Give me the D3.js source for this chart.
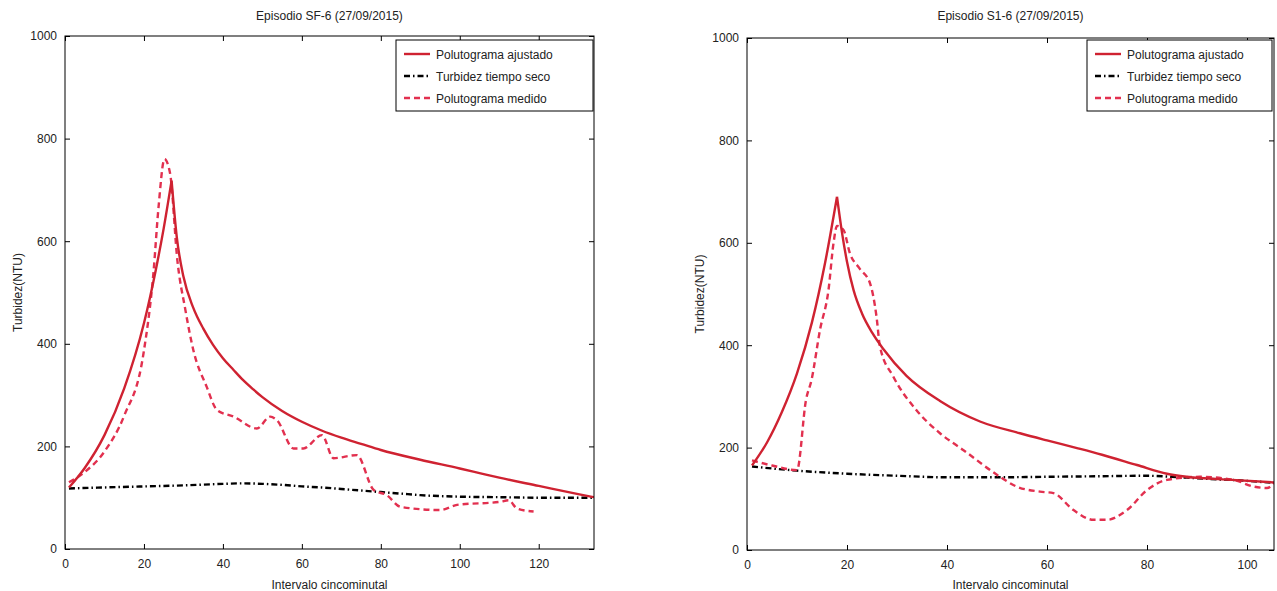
<!DOCTYPE html>
<html><head><meta charset="utf-8">
<script src="https://cdn.jsdelivr.net/npm/d3@7"></script>
<style>body{margin:0;background:#fff} svg{display:block} text{font-family:"Liberation Sans",Arial,sans-serif;fill:#222}</style>
</head><body><svg id="c" width="1277" height="591"></svg>
<script>
// ---------- data ----------
const yTicks = [0, 200, 400, 600, 800, 1000];
const leftXTicks = [0, 20, 40, 60, 80, 100, 120];
const rightXTicks = [0, 20, 40, 60, 80, 100];
const legendLabels = ["Polutograma ajustado", "Turbidez tiempo seco", "Polutograma medido"];

// Episodio SF-6
const sfAjustado = [[1,120],[5,158],[10,222],[15,313],[20,440],[23,544],[25,625],[27,718],[28.3,609],[30,531],[32.5,470],[35,430],[37.5,398],[40,372],[42.7,349],[45,330],[47.7,311],[50,296],[55,269],[60,248],[65,231],[70,217],[75,205],[80,193],[90,174],[100,157],[105,148],[110,139],[120,123],[130,107],[134,101]];
const sfSeco = [[1,118],[10,120],[20,122],[30,124],[40,127],[45,128],[50,127],[55,125],[60,122],[65,120],[70,117],[75,114],[80,111],[85,108],[90,105],[100,102],[110,101],[120,100],[134,100]];
const sfMedido = [[1,130],[5,150],[10,190],[15,260],[19.9,382],[22.4,538],[23.7,667],[25.2,760],[26.6,733],[28.5,560],[30.4,470],[32.5,388],[35.9,316],[38.5,271],[42.7,258],[48.6,235],[52,258],[53.7,251],[57.9,196],[60.4,196],[65.1,222],[68,177],[73.9,183],[78.2,115],[81.5,105],[85,82],[95,76],[99.3,86],[110.3,92],[112.4,95],[114.5,79],[118.7,73]];

// Episodio S1-6
const s1Ajustado = [[1,165],[4,210],[7,270],[10,345],[13,445],[15.6,560],[18,690],[19,620],[20,563],[21.3,508],[23,462],[25,425],[27.3,392],[31.9,340],[38.6,291],[46.6,251],[54.6,228],[60,214],[66,199],[71,186],[78,166],[84,149],[88,143],[97,137],[105.4,132]];
const s1Seco = [[1,163],[10,155],[20,149],[30,145],[40,142],[50,142],[60,143],[70,144],[80,145],[85,143],[90,140],[100,135],[105.4,131]];
const s1Medido = [[1,175],[5,165],[10,156],[11.8,293],[12.9,332],[14.6,430],[16.3,508],[17.3,599],[18,633],[19.3,625],[20.6,579],[22.5,550],[24.6,521],[25.9,456],[26.6,397],[29.3,338],[33.9,273],[38.6,228],[43.3,195],[50.6,143],[53.9,124],[58.6,114],[61.3,111],[65.3,78],[69.3,59],[72,59],[76,78],[80,117],[84,137],[90.6,143],[97.3,137],[101.3,124],[104,121],[105.4,131]];

// ---------- drawing ----------
const svg = d3.select("#c");
const colSolid = "#cf2231", colDash = "#e2304f", colBlack = "#000";

const panels = [
  {title:"Episodio SF-6 (27/09/2015)", x0:65, x1:594, y0:549, y1:36, xmax:134, xt:leftXTicks,
   ajust:sfAjustado, seco:sfSeco, med:sfMedido, leg:{x:396,y:40,w:197,h:71}},
  {title:"Episodio S1-6 (27/09/2015)", x0:747, x1:1274, y0:550, y1:38, xmax:105.4, xt:rightXTicks,
   ajust:s1Ajustado, seco:s1Seco, med:s1Medido, leg:{x:1087,y:40,w:185,h:71}}
];

panels.forEach(p => {
  const x = d3.scaleLinear().domain([0, p.xmax]).range([p.x0, p.x1]);
  const y = d3.scaleLinear().domain([0, 1000]).range([p.y0, p.y1]);
  const g = svg.append("g");
  const cx = (p.x0 + p.x1) / 2, cy = (p.y0 + p.y1) / 2;

  const clipId = "clip" + p.x0;
  svg.append("clipPath").attr("id", clipId).append("rect")
    .attr("x", p.x0).attr("y", p.y1).attr("width", p.x1 - p.x0).attr("height", p.y0 - p.y1);

  const line = d3.line().x(d => x(d[0])).y(d => y(d[1])).curve(d3.curveMonotoneX);
  const lg = g.append("g").attr("clip-path", `url(#${clipId})`);
  lg.append("path").datum(p.seco).attr("d", line).attr("fill","none")
    .attr("stroke", colBlack).attr("stroke-width", 2.4).attr("stroke-dasharray","6,3,1.5,3");
  lg.append("path").datum(p.med).attr("d", line).attr("fill","none")
    .attr("stroke", colDash).attr("stroke-width", 2.4).attr("stroke-dasharray","6,4");
  // fitted curve has a cusp at its peak: draw rising and falling limbs separately
  const pk = d3.maxIndex(p.ajust, d => d[1]);
  const limbs = [p.ajust.slice(0, pk + 1), p.ajust.slice(pk)];
  const fitD = limbs.map(l => line(l)).join("");
  lg.append("path").attr("d", fitD).attr("fill","none")
    .attr("stroke", colSolid).attr("stroke-width", 2.4).attr("stroke-linejoin","miter");

  // axes (MATLAB style: box with inward ticks)
  const fmt = d3.format("d");
  const styleAxis = a => { a.select(".domain").remove(); a.selectAll("line").attr("stroke","#000"); a.selectAll("text").attr("font-size","12px").attr("fill","#222").attr("font-family","Liberation Sans, Arial, sans-serif"); };
  g.append("g").attr("transform",`translate(0,${p.y0})`)
    .call(d3.axisBottom(x).tickValues(p.xt).tickFormat(fmt).tickSizeInner(-5).tickSizeOuter(0).tickPadding(10))
    .call(styleAxis);
  g.append("g").attr("transform",`translate(0,${p.y1})`)
    .call(d3.axisTop(x).tickValues(p.xt).tickFormat("").tickSizeInner(-5).tickSizeOuter(0))
    .call(styleAxis);
  g.append("g").attr("transform",`translate(${p.x0},0)`)
    .call(d3.axisLeft(y).tickValues(yTicks).tickFormat(fmt).tickSizeInner(-5).tickSizeOuter(0).tickPadding(8))
    .call(styleAxis);
  g.append("g").attr("transform",`translate(${p.x1},0)`)
    .call(d3.axisRight(y).tickValues(yTicks).tickFormat("").tickSizeInner(-5).tickSizeOuter(0))
    .call(styleAxis);
  g.append("rect").attr("x", p.x0).attr("y", p.y1).attr("width", p.x1 - p.x0).attr("height", p.y0 - p.y1)
    .attr("fill","none").attr("stroke","#000").attr("stroke-width",1);

  // labels
  g.append("text").attr("x", cx).attr("y", 20).attr("text-anchor","middle").attr("font-size","12px").text(p.title);
  g.append("text").attr("x", cx).attr("y", 589).attr("text-anchor","middle").attr("font-size","12px").text("Intervalo cincominutal");
  g.append("text").attr("transform",`translate(${p.x0 - 43},${cy}) rotate(-90)`).attr("text-anchor","middle")
    .attr("font-size","12px").text("Turbidez(NTU)");

  // legend
  const L = p.leg;
  const lgd = g.append("g");
  lgd.append("rect").attr("x", L.x).attr("y", L.y).attr("width", L.w).attr("height", L.h)
    .attr("fill","#fff").attr("stroke","#000").attr("stroke-width",1);
  const styles = [{c:colSolid, d:null},{c:colBlack, d:"6,3,1.5,3"},{c:colDash, d:"6,4"}];
  legendLabels.forEach((t, i) => {
    const yy = L.y + 14 + i * 22;
    lgd.append("line").attr("x1", L.x + 8).attr("x2", L.x + 34).attr("y1", yy).attr("y2", yy)
      .attr("stroke", styles[i].c).attr("stroke-width", 2.4).attr("stroke-dasharray", styles[i].d);
    lgd.append("text").attr("x", L.x + 40).attr("y", yy + 4.5).attr("font-size","12px").text(t);
  });
});
</script></body></html>
